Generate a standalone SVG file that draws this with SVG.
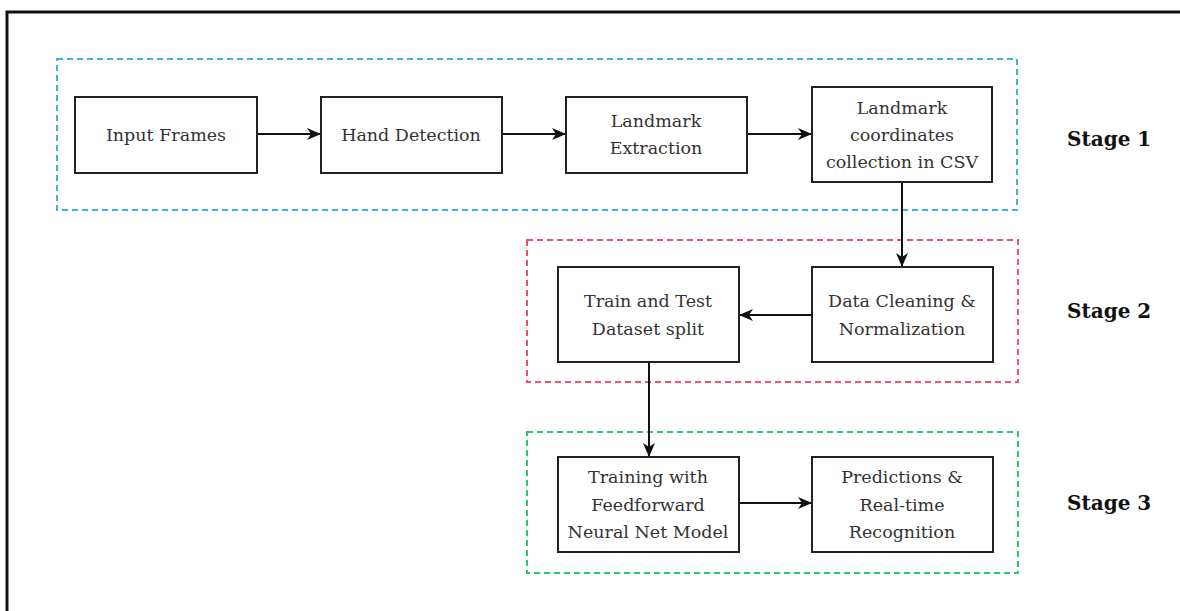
<svg xmlns="http://www.w3.org/2000/svg" width="1180" height="611" viewBox="0 0 1180 611">
  <defs>
    <marker id="arrow" viewBox="0 0 14 12" refX="13" refY="6" markerWidth="14" markerHeight="12" markerUnits="userSpaceOnUse" orient="auto">
      <path d="M0,0 L14,6 L0,12 L4,6 Z" fill="#111"/>
    </marker>
  </defs>
  <style>
    .frame { fill: none; stroke: #111; stroke-width: 3; }
    .stage { fill: none; stroke-width: 2; stroke-dasharray: 6 4; }
    .box { fill: #fff; stroke: #222; stroke-width: 2; }
    .lbl { font-family: "DejaVu Serif", serif; font-size: 17.5px; fill: #333; text-anchor: middle; }
    .stg { font-family: "DejaVu Serif", serif; font-size: 20px; font-weight: bold; fill: #111; }
    .edge { fill: none; stroke: #111; stroke-width: 2; marker-end: url(#arrow); }
  </style>

  <rect width="1180" height="611" fill="#fff"/>
  <rect class="frame" x="7" y="12" width="1200" height="700"/>

  <!-- stage containers -->
  <g id="stage1">
    <rect class="stage" x="57" y="59" width="960" height="151" stroke="#3bb5e0"/>
    <text class="stg" x="1067" y="146">Stage 1</text>
  </g>
  <g id="stage2">
    <rect class="stage" x="527" y="240" width="491" height="142" stroke="#f0506e"/>
    <text class="stg" x="1067" y="318">Stage 2</text>
  </g>
  <g id="stage3">
    <rect class="stage" x="527" y="432" width="491" height="141" stroke="#22cc66"/>
    <text class="stg" x="1067" y="510">Stage 3</text>
  </g>

  <!-- connectors -->
  <g id="connectors">
    <line class="edge" x1="257" y1="134" x2="320" y2="134"/>
    <line class="edge" x1="502" y1="134" x2="565" y2="134"/>
    <line class="edge" x1="747" y1="134" x2="811" y2="134"/>
    <line class="edge" x1="902" y1="182" x2="902" y2="266"/>
    <line class="edge" x1="812" y1="315" x2="740" y2="315"/>
    <line class="edge" x1="649" y1="362" x2="649" y2="456"/>
    <line class="edge" x1="739" y1="503" x2="811" y2="503"/>
  </g>

  <!-- nodes -->
  <g id="input-frames">
    <rect class="box" x="75" y="97" width="182" height="76"/>
    <text class="lbl" x="166" y="141">Input Frames</text>
  </g>
  <g id="hand-detection">
    <rect class="box" x="321" y="97" width="181" height="76"/>
    <text class="lbl" x="411" y="141">Hand Detection</text>
  </g>
  <g id="landmark-extraction">
    <rect class="box" x="566" y="97" width="181" height="76"/>
    <text class="lbl" x="656" y="127">Landmark</text>
    <text class="lbl" x="656" y="154">Extraction</text>
  </g>
  <g id="landmark-csv">
    <rect class="box" x="812" y="87" width="180" height="95"/>
    <text class="lbl" x="902" y="114">Landmark</text>
    <text class="lbl" x="902" y="141">coordinates</text>
    <text class="lbl" x="902" y="168">collection in CSV</text>
  </g>
  <g id="data-cleaning">
    <rect class="box" x="812" y="267" width="181" height="95"/>
    <text class="lbl" x="902" y="307">Data Cleaning &amp;</text>
    <text class="lbl" x="902" y="335">Normalization</text>
  </g>
  <g id="train-test-split">
    <rect class="box" x="558" y="267" width="181" height="95"/>
    <text class="lbl" x="648" y="307">Train and Test</text>
    <text class="lbl" x="648" y="335">Dataset split</text>
  </g>
  <g id="training">
    <rect class="box" x="558" y="457" width="181" height="95"/>
    <text class="lbl" x="648" y="483">Training with</text>
    <text class="lbl" x="648" y="511">Feedforward</text>
    <text class="lbl" x="648" y="538">Neural Net Model</text>
  </g>
  <g id="predictions">
    <rect class="box" x="812" y="457" width="181" height="95"/>
    <text class="lbl" x="902" y="483">Predictions &amp;</text>
    <text class="lbl" x="902" y="511">Real-time</text>
    <text class="lbl" x="902" y="538">Recognition</text>
  </g>
</svg>
